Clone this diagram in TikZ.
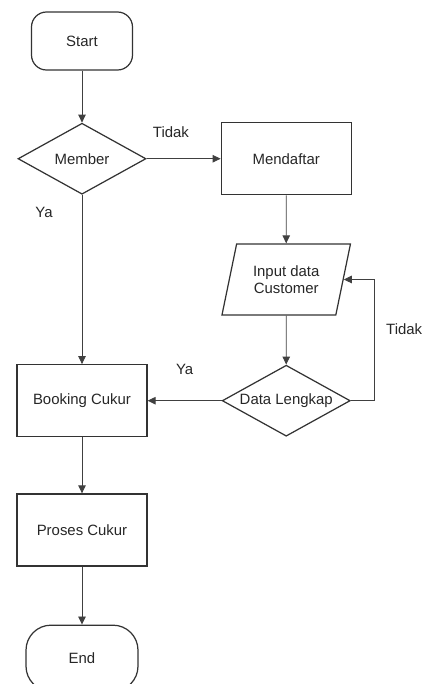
\documentclass[tikz,border=0pt]{standalone}
\usepackage{fontspec}
\setmainfont{Liberation Sans}
\usetikzlibrary{positioning, shapes.geometric, arrows.meta}

\begin{document}
\begin{tikzpicture}[
    font=\fontsize{8.5}{10}\selectfont,
    >={Triangle[length=0.16cm, width=0.15cm]},
    line/.style={draw=black!75, line width=0.5pt},
    termbox/.style={
        rectangle, draw=black!80, line width=0.7pt,
        minimum width=2.02cm, minimum height=1.16cm,
        rounded corners=0.3cm, text=black!85
    },
    stepbox/.style={
        rectangle, draw=black!80, line width=0.7pt,
        minimum width=2.6cm, minimum height=1.44cm,
        text centered, text=black!85
    },
    askbox/.style={
        diamond, aspect=1.8, draw=black!80, line width=0.7pt,
        minimum width=2.56cm, minimum height=1.42cm, inner sep=0pt,
        text=black!85
    },
    databox/.style={
        trapezium, trapezium left angle=74, trapezium right angle=106,
        trapezium stretches=true, draw=black!80, line width=0.7pt,
        minimum width=2.58cm, minimum height=1.42cm,
        align=center, text=black!85
    },
    tag/.style={inner sep=0pt, text=black!85}
]

\clip (0,0) rectangle (8.46,-13.68);

\node[termbox] (start) at (1.64,-0.82) {Start};
\node[askbox, below=1.04cm of start] (member) {Member};
\node[stepbox, right=1.48cm of member] (daftar) {Mendaftar};
\node[databox, below=0.96cm of daftar] (input) {Input data\\Customer};
\node[askbox, below=0.98cm of input] (lengkap) {Data Lengkap};
\node[stepbox, left=1.48cm of lengkap] (booking) {Booking Cukur};
\node[stepbox, below=1.12cm of booking] (proses) {Proses Cukur};
\node[termbox, below=1.16cm of proses, minimum width=2.24cm,
      minimum height=1.32cm, rounded corners=0.5cm] (end) {End};

\coordinate[right=0.48cm of lengkap.east] (balik);

\draw[->, line] (start) -- (member);
\draw[->, line] (member) -- (daftar);
\draw[->, line] (daftar) -- (input);
\draw[->, line] (input) -- (lengkap);
\draw[->, line] (lengkap) -- (booking);
\draw[->, line] (member) -- (booking);
\draw[->, line] (booking) -- (proses);
\draw[->, line] (proses) -- (end);
\draw[->, line] (lengkap.east) -- (balik) |- (input.east);

\node[tag, above right=0.42cm and 0.12cm of member.east] (tidaka) {Tidak};
\node[tag, below left=0.24cm and 0.58cm of member.south] (yaa) {Ya};
\node[tag, above left=0.52cm and 0.56cm of lengkap.west] (yab) {Ya};
\node[tag, above right=1.32cm and 0.22cm of balik] (tidakb) {Tidak};

\end{tikzpicture}
\end{document}
